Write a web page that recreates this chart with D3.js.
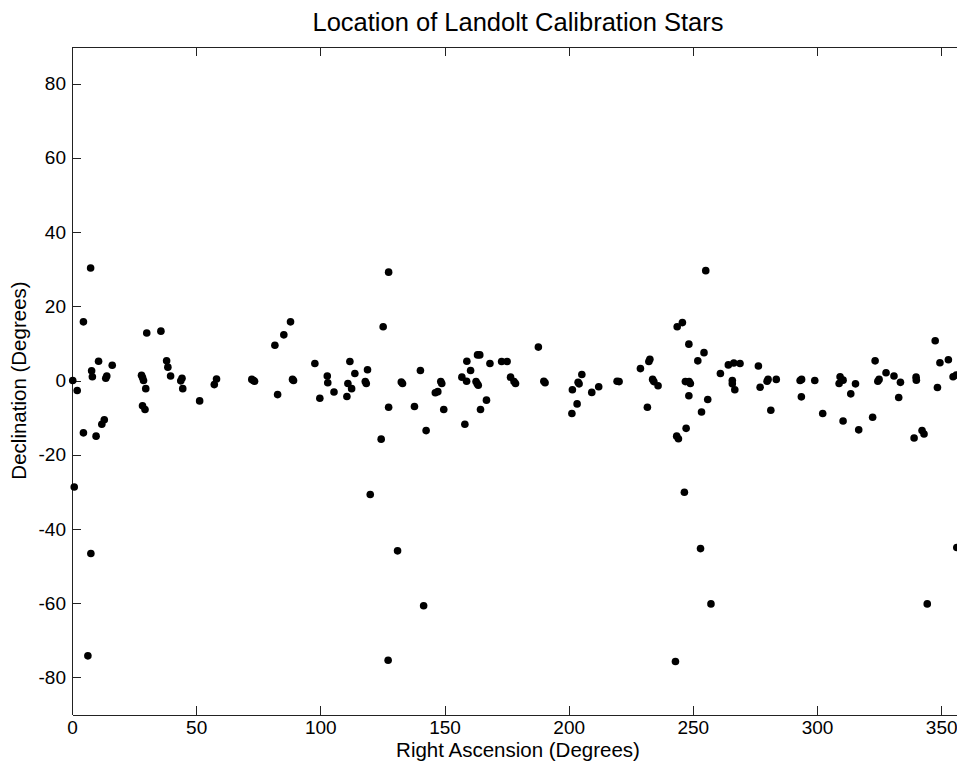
<!DOCTYPE html>
<html>
<head>
<meta charset="utf-8">
<title>Location of Landolt Calibration Stars</title>
<script src="https://d3js.org/d3.v7.min.js"></script>
<style>
  body { margin: 0; background: #fff; }
  svg { display: block; font-family: "Liberation Sans", Arial, Helvetica, sans-serif; }
  .axis path, .axis line { stroke: #222; shape-rendering: crispEdges; }
  .axis text { font-size: 19px; fill: #000; }
</style>
</head>
<body>
<script>
// right ascension / declination of each star, degrees
var ra = [0.3, 2.1, 0.9, 4.6, 7.5, 7.9, 8.2, 10.7, 14.0, 13.6, 16.2, 4.6, 9.7, 12.0, 13.0, 7.6, 6.4,
  30.1, 35.8, 28.4, 28.0, 28.8, 29.7, 28.4, 29.4, 38.1, 38.6, 39.7, 44.3, 43.8, 44.6, 51.4, 58.2, 57.3,
  73.0, 72.4, 73.5, 88.0, 85.3, 81.7, 82.8, 89.2, 88.8, 97.8, 99.8, 102.8, 103.0, 105.5, 111.9, 113.9,
  111.1, 112.6, 110.7, 119.0, 118.5, 118.1, 127.5, 125.3, 127.5, 124.5, 133.1, 132.6, 140.3, 137.9,
  142.6, 146.3, 147.3, 148.9, 148.5, 149.7, 157.0, 158.9, 159.0, 160.5, 163.3, 164.2, 163.2, 162.7,
  163.6, 158.2, 166.9, 164.5, 168.3, 173.0, 175.2, 176.6, 178.6, 178.0, 187.8, 190.5, 190.0, 201.5,
  204.2, 203.8, 205.3, 203.4, 201.3, 209.3, 212.1, 219.5, 220.3, 232.7, 232.3, 228.9, 234.3, 233.8,
  236.0, 231.7, 255.2, 243.7, 245.8, 248.4, 254.5, 252.0, 248.5, 247.0, 249.0, 248.4, 256.0, 253.5,
  247.3, 244.2, 243.5, 261.1, 264.3, 266.5, 269.0, 265.9, 265.9, 266.9, 276.4, 277.1, 280.3, 279.9,
  283.6, 281.4, 293.8, 293.2, 293.7, 299.1, 302.3, 309.3, 310.5, 308.9, 310.5, 315.5, 313.6, 316.8,
  323.4, 325.0, 324.5, 322.4, 327.8, 331.0, 333.6, 332.9, 339.9, 340.0, 339.1, 342.3, 343.1, 347.6,
  349.5, 352.9, 348.5, 354.8, 356.1, 120.1, 131.1, 141.6, 127.3, 246.6, 253.1, 257.3, 243.0, 344.4,
  356.3];
var dec = [0.0, -2.7, -28.7, 15.8, 30.3, 2.6, 1.0, 5.2, 1.2, 0.6, 4.1, -14.1, -15.0, -11.8, -10.6, -46.6, -74.2,
  12.8, 13.3, 0.8, 1.4, 0.0, -2.2, -6.8, -7.8, 5.3, 3.6, 1.2, 0.6, -0.1, -2.2, -5.5, 0.4, -1.1,
  0.0, 0.3, -0.2, 15.8, 12.3, 9.5, -3.8, 0.0, 0.3, 4.6, -4.8, 1.2, -0.6, -3.1, 5.1, 1.9,
  -0.8, -2.2, -4.3, 2.9, -0.8, -0.3, 29.2, 14.5, -7.2, -15.8, -0.8, -0.4, 2.7, -7.0,
  -13.5, -3.3, -3.0, -0.8, -0.3, -7.8, 0.9, -0.2, 5.2, 2.7, 6.9, 6.9, -0.9, -0.3,
  -1.3, -11.8, -5.3, -7.8, 4.6, 5.1, 5.1, 0.9, -0.8, -0.3, 9.0, -0.6, -0.2, -2.5,
  -0.9, -0.5, 1.6, -6.3, -8.9, -3.2, -1.7, -0.2, -0.3, 5.7, 5.1, 3.2, -0.3, 0.3,
  -1.4, -7.2, 29.6, 14.5, 15.6, 9.8, 7.5, 5.3, -0.3, -0.3, -0.8, -4.1, -5.1, -8.5,
  -12.9, -15.7, -15.0, 1.9, 4.2, 4.7, 4.6, 0.0, -0.9, -2.5, 3.9, -1.8, 0.3, -0.2,
  0.3, -8.0, 0.3, 0.0, -4.4, 0.0, -8.9, 1.0, 0.1, -0.8, -10.9, -0.9, -3.6, -13.3,
  5.3, 0.3, -0.2, -9.9, 2.1, 1.2, -0.5, -4.6, 0.9, 0.1, -15.5, -13.5, -14.4, 10.7,
  4.8, 5.6, -1.9, 1.0, 1.5, -30.7, -45.9, -60.7, -75.4, -30.1, -45.3, -60.2, -75.7, -60.2,
  -45.0];

var xTicks = [0, 50, 100, 150, 200, 250, 300, 350];
var yTicks = [-80, -60, -40, -20, 0, 20, 40, 60, 80];

var W = 957, H = 766;
var plotL = 72, plotR = 966, plotT = 46.5, plotB = 714.5;

var svg = d3.select("body").append("svg")
    .attr("width", W)
    .attr("height", H);

var x = d3.scaleLinear().domain([0, 360]).range([plotL, plotR]);
var y = d3.scaleLinear().domain([-90, 90]).range([plotB, plotT]);

// plain hyphen minus like the original, not the unicode minus d3 uses
var plain = function(d) { return String(d); };

// axes, ticks pointing inward like matlab
svg.append("g").attr("class", "axis")
    .attr("transform", "translate(0," + plotB + ")")
    .call(d3.axisBottom(x).tickValues(xTicks).tickFormat(plain).tickSizeInner(-9).tickSizeOuter(0).tickPadding(6));
svg.append("g").attr("class", "axis")
    .attr("transform", "translate(0," + plotT + ")")
    .call(d3.axisTop(x).tickValues(xTicks).tickSizeInner(-9).tickSizeOuter(0).tickFormat(""));
svg.append("g").attr("class", "axis")
    .attr("transform", "translate(" + plotL + ",0)")
    .call(d3.axisLeft(y).tickValues(yTicks).tickFormat(plain).tickSizeInner(-9).tickSizeOuter(0).tickPadding(6));
svg.append("g").attr("class", "axis")
    .attr("transform", "translate(" + plotR + ",0)")
    .call(d3.axisRight(y).tickValues(yTicks).tickSizeInner(-9).tickSizeOuter(0).tickFormat(""));

// stars
svg.append("g").selectAll("circle")
    .data(ra.map(function(d, i) { return [d, dec[i]]; }))
  .enter().append("circle")
    .attr("cx", function(d) { return x(d[0]); })
    .attr("cy", function(d) { return y(d[1]); })
    .attr("r", 3.8)
    .attr("fill", "#000");

svg.append("text")
    .attr("x", 518).attr("y", 31)
    .attr("text-anchor", "middle")
    .style("font-size", "25.5px")
    .text("Location of Landolt Calibration Stars");

svg.append("text")
    .attr("x", 518).attr("y", 757)
    .attr("text-anchor", "middle")
    .style("font-size", "20.5px")
    .text("Right Ascension (Degrees)");

svg.append("text")
    .attr("transform", "translate(26," + ((plotT + plotB) / 2) + ") rotate(-90)")
    .attr("text-anchor", "middle")
    .style("font-size", "20.5px")
    .text("Declination (Degrees)");
</script>
</body>
</html>
